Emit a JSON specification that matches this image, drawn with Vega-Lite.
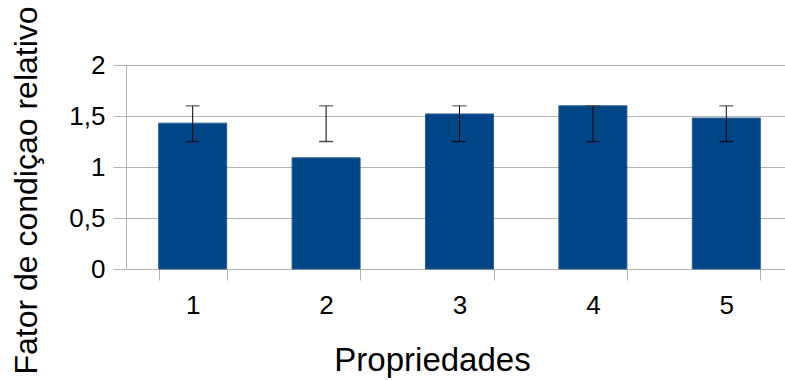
{
  "$schema": "https://vega.github.io/schema/vega-lite/v6.json",
  "width": 659,
  "height": 204,
  "autosize": {"type": "none"},
  "padding": {"left": 126, "top": 65, "right": 0, "bottom": 111},
  "background": "white",
  "config": {"view": {"stroke": null}, "font": "Liberation Sans"},
  "data": {
    "values": [
      {"prop": "1", "valor": 1.43, "min": 1.25, "max": 1.6},
      {"prop": "2", "valor": 1.09, "min": 1.25, "max": 1.6},
      {"prop": "3", "valor": 1.52, "min": 1.25, "max": 1.6},
      {"prop": "4", "valor": 1.6, "min": 1.25, "max": 1.6},
      {"prop": "5", "valor": 1.48, "min": 1.25, "max": 1.6}
    ]
  },
  "encoding": {
    "x": {
      "field": "prop",
      "type": "ordinal",
      "scale": {"range": [0, 667], "paddingInner": 0.49, "paddingOuter": 0.245},
      "axis": {
        "title": "Propriedades",
        "labelAngle": 0,
        "tickBand": "extent",
        "tickSize": 11,
        "tickColor": "#b3b3b3",
        "domainColor": "#b3b3b3",
        "labelFontSize": 26,
        "labelColor": "black",
        "labelPadding": 12,
        "titleFontSize": 33,
        "titleFontWeight": "normal",
        "titleColor": "black",
        "titlePadding": 26,
        "titleX": 306,
        "titleAlign": "center",
        "grid": false
      }
    }
  },
  "layer": [
    {
      "mark": {"type": "bar", "color": "#004586", "stroke": "#2d5e8e", "strokeWidth": 1},
      "encoding": {
        "y": {
          "field": "valor",
          "type": "quantitative",
          "title": "Fator de condiçao relativo",
          "scale": {"domain": [0, 2]},
          "axis": {
            "values": [0, 0.5, 1, 1.5, 2],
            "labelExpr": "replace(format(datum.value, '~g'), '.', ',')",
            "grid": true,
            "gridColor": "#b3b3b3",
            "domainColor": "#b3b3b3",
            "tickColor": "#b3b3b3",
            "tickSize": 13,
            "labelFontSize": 26,
            "labelColor": "black",
            "labelPadding": 8,
            "titleFontSize": 32,
            "titleFontWeight": "normal",
            "titleColor": "black",
            "titleAngle": -90,
            "titleAlign": "center",
            "titleBaseline": "bottom",
            "titleX": -83,
            "titleY": 125
          }
        }
      }
    },
    {
      "mark": {"type": "rule", "color": "black", "strokeWidth": 1},
      "encoding": {
        "y": {"field": "min", "type": "quantitative", "title": "Fator de condiçao relativo"},
        "y2": {"field": "max"}
      }
    },
    {
      "mark": {"type": "tick", "color": "black", "size": 14, "thickness": 1.5},
      "encoding": {
        "y": {"field": "min", "type": "quantitative", "title": "Fator de condiçao relativo"}
      }
    },
    {
      "mark": {"type": "tick", "color": "#444444", "size": 14, "thickness": 1.5},
      "encoding": {
        "y": {"field": "max", "type": "quantitative", "title": "Fator de condiçao relativo"}
      }
    }
  ]
}
